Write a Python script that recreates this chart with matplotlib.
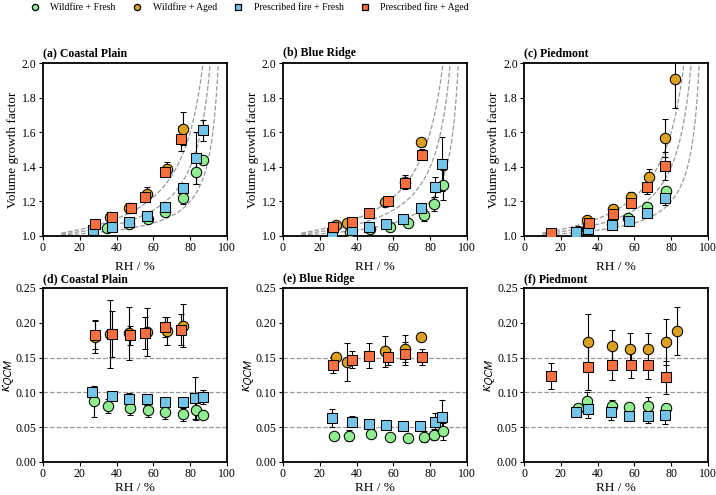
import numpy as np
import matplotlib
matplotlib.use("Agg")
import matplotlib.pyplot as plt
from matplotlib.lines import Line2D

plt.rcParams["font.family"] = ["Liberation Serif", "DejaVu Serif"]
plt.rcParams["mathtext.fontset"] = "stix"

# colours / series names
labels = ["Wildfire + Fresh", "Wildfire + Aged", "Prescribed fire + Fresh", "Prescribed fire + Aged"]
colors = ["#90EE90", "#DCA21F", "#72C4E8", "#F8703F"]
markers = ["o", "o", "s", "s"]

titles_gf = ["(a) Coastal Plain", "(b) Blue Ridge", "(c) Piedmont"]
titles_k = ["(d) Coastal Plain", "(e) Blue Ridge", "(f) Piedmont"]
kappa_refs = [0.05, 0.10, 0.15]

# ---- volume growth factor (rh, value, err) ----
gf_cp_wf_fresh = ([35, 47, 57, 66.5, 76, 83.4, 86.7], [1.044, 1.07, 1.096, 1.14, 1.22, 1.37, 1.44], [0.01, 0.01, 0.01, 0.015, 0.035, 0.07, 0.01])
gf_cp_wf_aged = ([36.4, 47, 56.6, 67.4, 75.9], [1.108, 1.16, 1.24, 1.39, 1.62], [0.01, 0.01, 0.045, 0.04, 0.095])
gf_cp_rx_fresh = ([27, 37.3, 47, 56.6, 66.5, 76, 83.1, 86.7], [1.035, 1.054, 1.079, 1.117, 1.17, 1.275, 1.45, 1.61], [0.01, 0.01, 0.01, 0.01, 0.01, 0.02, 0.15, 0.06])
gf_cp_rx_aged = ([28.5, 37.3, 47.6, 55.3, 66.1, 74.8], [1.071, 1.108, 1.163, 1.227, 1.371, 1.563], [0.01, 0.01, 0.03, 0.02, 0.02, 0.07])

gf_br_wf_fresh = ([36.2, 47.4, 58, 67.9, 76.6, 82, 86.7], [1.021, 1.038, 1.05, 1.073, 1.121, 1.183, 1.294], [0.005, 0.005, 0.01, 0.01, 0.035, 0.04, 0.085])
gf_br_wf_aged = ([29, 35, 55.3, 66.3, 74.8], [1.062, 1.077, 1.194, 1.313, 1.542], [0.01, 0.01, 0.01, 0.04, 0.01])
gf_br_rx_fresh = ([26.8, 37.3, 46.7, 56, 65.4, 74.8, 82.5, 86.3], [1.017, 1.033, 1.05, 1.067, 1.10, 1.162, 1.283, 1.417], [0.005, 0.005, 0.005, 0.01, 0.01, 0.01, 0.06, 0.155])
gf_br_rx_aged = ([27, 37.3, 46.8, 57.1, 66.5, 75.7], [1.052, 1.083, 1.133, 1.20, 1.306, 1.471], [0.01, 0.01, 0.01, 0.01, 0.02, 0.03])

gf_pd_wf_fresh = ([29.1, 34.4, 47.7, 56.4, 66.9, 77.1], [1.031, 1.04, 1.068, 1.104, 1.169, 1.263], [0.005, 0.005, 0.01, 0.01, 0.02, 0.01])
gf_pd_wf_aged = ([34.1, 48.1, 57.9, 67.7, 76.4, 82.3], [1.09, 1.158, 1.225, 1.34, 1.567, 1.908], [0.01, 0.01, 0.03, 0.05, 0.11, 0.17])
gf_pd_rx_fresh = ([28.4, 34.9, 47.9, 57, 66.8, 76.4], [1.025, 1.04, 1.065, 1.087, 1.135, 1.217], [0.005, 0.005, 0.01, 0.01, 0.01, 0.04])
gf_pd_rx_aged = ([14.8, 35.1, 48.3, 58.2, 66.8, 76.7], [1.019, 1.073, 1.129, 1.192, 1.285, 1.404], [0.005, 0.01, 0.01, 0.01, 0.045, 0.082])

# ---- kappa QCM (rh, value, err) ----
k_cp_wf_fresh = ([27.6, 35.5, 47.2, 57.1, 66.5, 75.9, 83.4, 86.7], [0.087, 0.081, 0.077, 0.074, 0.072, 0.069, 0.074, 0.068], [0.022, 0.01, 0.01, 0.01, 0.01, 0.01, 0.013, 0.003])
k_cp_wf_aged = ([28, 36.4, 47, 56.6, 67.4, 75.9], [0.180, 0.184, 0.185, 0.187, 0.188, 0.196], [0.024, 0.049, 0.038, 0.034, 0.02, 0.031])
k_cp_rx_fresh = ([26.8, 37.5, 47, 56.6, 66.5, 75.9, 82.7, 86.7], [0.100, 0.095, 0.091, 0.090, 0.086, 0.086, 0.092, 0.094], [0.008, 0.005, 0.008, 0.008, 0.008, 0.008, 0.03, 0.01])
k_cp_rx_aged = ([28.5, 37.3, 47.2, 55.3, 66.1, 74.8], [0.182, 0.184, 0.182, 0.186, 0.194, 0.190], [0.02, 0.033, 0.014, 0.023, 0.015, 0.022])

k_br_wf_fresh = ([27.7, 35.7, 47.7, 58, 67.9, 76.6, 82, 86.7], [0.037, 0.0376, 0.0405, 0.0357, 0.0347, 0.0366, 0.0395, 0.044], [0.004, 0.008, 0.005, 0.005, 0.006, 0.008, 0.008, 0.012])
k_br_wf_aged = ([29, 35, 55.3, 66.1, 74.8], [0.1505, 0.144, 0.159, 0.163, 0.180], [0.003, 0.027, 0.022, 0.019, 0.005])
k_br_rx_fresh = ([26.8, 37.3, 47, 55.9, 65.4, 74.6, 82.7, 86.5], [0.063, 0.058, 0.055, 0.053, 0.052, 0.052, 0.058, 0.065], [0.013, 0.008, 0.004, 0.003, 0.003, 0.004, 0.012, 0.024])
k_br_rx_aged = ([27, 37.3, 47, 57.1, 66.5, 75.7], [0.1395, 0.147, 0.1525, 0.151, 0.1557, 0.151], [0.011, 0.012, 0.018, 0.012, 0.016, 0.011])

k_pd_wf_fresh = ([29.3, 34.4, 47.7, 56.8, 67.4, 77.4], [0.077, 0.087, 0.080, 0.079, 0.081, 0.078], [0.004, 0.013, 0.009, 0.005, 0.012, 0.005])
k_pd_wf_aged = ([34.6, 47.7, 57.7, 67.6, 77, 82.9], [0.173, 0.166, 0.163, 0.163, 0.172, 0.188], [0.04, 0.024, 0.023, 0.023, 0.033, 0.034])
k_pd_rx_fresh = ([28.1, 34.8, 47.5, 57.2, 67.2, 76.7], [0.072, 0.076, 0.072, 0.0666, 0.0666, 0.067], [0.004, 0.013, 0.012, 0.008, 0.01, 0.012])
k_pd_rx_aged = ([14.8, 34.8, 47.9, 58.1, 67.4, 77.2], [0.1236, 0.136, 0.140, 0.139, 0.140, 0.1217], [0.018, 0.032, 0.022, 0.018, 0.021, 0.024])

gf_panels = [
    [gf_cp_wf_fresh, gf_cp_wf_aged, gf_cp_rx_fresh, gf_cp_rx_aged],
    [gf_br_wf_fresh, gf_br_wf_aged, gf_br_rx_fresh, gf_br_rx_aged],
    [gf_pd_wf_fresh, gf_pd_wf_aged, gf_pd_rx_fresh, gf_pd_rx_aged],
]
k_panels = [
    [k_cp_wf_fresh, k_cp_wf_aged, k_cp_rx_fresh, k_cp_rx_aged],
    [k_br_wf_fresh, k_br_wf_aged, k_br_rx_fresh, k_br_rx_aged],
    [k_pd_wf_fresh, k_pd_wf_aged, k_pd_rx_fresh, k_pd_rx_aged],
]

fig = plt.figure(figsize=(7.16, 4.95), dpi=100)
lefts = [43 / 716, 283 / 716, 524 / 716]
w = 184 / 716


def style_axes(ax):
    ax.set_xlim(0, 100)
    ax.set_xticks(range(0, 101, 20))
    ax.tick_params(labelsize=8.5, length=3, width=0.8, direction="out", pad=1.5)
    for sp in ax.spines.values():
        sp.set_linewidth(1.3)
    ax.set_xlabel("RH / %", fontsize=9.5, labelpad=1)


def draw_series(ax, series):
    for (rh, val, err), c, m in zip(series, colors, markers):
        ax.errorbar(rh, val, yerr=err, fmt=m, ms=7.5, mfc=c, mec="black", mew=0.75,
                    ecolor="black", elinewidth=0.8, capsize=2.5, capthick=0.8, zorder=3)


rh_curve = np.linspace(10, 99.5, 600)
for i in range(3):
    ax = fig.add_axes([lefts[i], 1 - 236 / 495, w, 173 / 495])
    for k in kappa_refs:
        ax.plot(rh_curve, 1 + k * rh_curve / (100 - rh_curve), ls="--", color="#999999", lw=0.9, zorder=1)
    draw_series(ax, gf_panels[i])
    ax.set_ylim(1.0, 2.0)
    ax.set_yticks(np.arange(1.0, 2.01, 0.2))
    ax.yaxis.set_major_formatter(matplotlib.ticker.FormatStrFormatter("%.1f"))
    style_axes(ax)
    ax.set_xlabel("RH / %", fontsize=9.5, labelpad=5)
    ax.set_ylabel("Volume growth factor", fontsize=9.5, labelpad=2)
    ax.set_title(titles_gf[i], loc="left", fontsize=8.5, fontweight="bold", pad=5)

for i in range(3):
    ax = fig.add_axes([lefts[i], 1 - 462 / 495, w, 174 / 495])
    for k in kappa_refs:
        ax.axhline(k, ls="--", color="#999999", lw=0.9, zorder=1)
    draw_series(ax, k_panels[i])
    ax.set_ylim(0, 0.25)
    ax.set_yticks(np.arange(0, 0.251, 0.05))
    ax.yaxis.set_major_formatter(matplotlib.ticker.FormatStrFormatter("%.2f"))
    style_axes(ax)
    ax.set_ylabel(r"$\kappa_{\mathsf{QCM}}$", fontsize=11, labelpad=0)
    ax.set_title(titles_k[i], loc="left", fontsize=8.5, fontweight="bold", pad=4)

handles = [Line2D([], [], ls="none", marker=m, ms=4.5, mfc=c, mec="black", mew=0.9)
           for c, m in zip(colors, markers)]
fig.legend(handles, labels, loc="upper left", bbox_to_anchor=(25 / 716, 1.005), ncol=4,
           frameon=False, fontsize=7, handlelength=1.0, handletextpad=1.1,
           columnspacing=1.7, borderaxespad=0.1)

fig.savefig("out.png", dpi=100)
